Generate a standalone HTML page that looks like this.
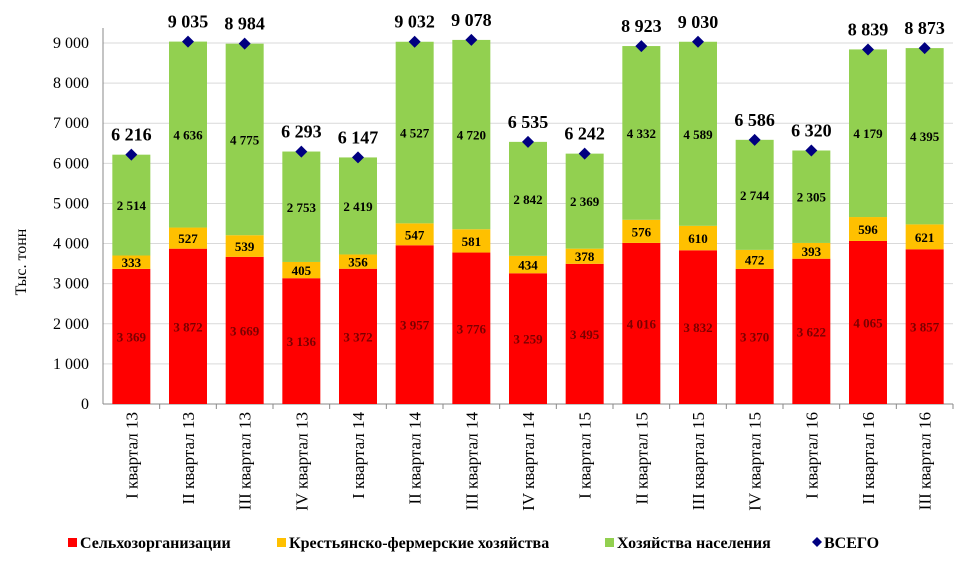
<!DOCTYPE html>
<html><head><meta charset="utf-8"><style>
body{margin:0;background:#fff;width:966px;height:571px;overflow:hidden}
svg text{font-family:"Liberation Serif",serif}
</style></head><body>
<svg id="chart" width="966" height="571"></svg>
<script>
const categories=["I квартал 13","II квартал 13","III квартал 13","IV квартал 13","I квартал 14","II квартал 14","III квартал 14","IV квартал 14","I квартал 15","II квартал 15","III квартал 15","IV квартал 15","I квартал 16","II квартал 16","III квартал 16"];
const agroOrgs=[3369,3872,3669,3136,3372,3957,3776,3259,3495,4016,3832,3370,3622,4065,3857];
const farms=[333,527,539,405,356,547,581,434,378,576,610,472,393,596,621];
const households=[2514,4636,4775,2753,2419,4527,4720,2842,2369,4332,4589,2744,2305,4179,4395];
const totals=[6216,9035,8984,6293,6147,9032,9078,6535,6242,8923,9030,6586,6320,8839,8873];
const yTicks=[0,1000,2000,3000,4000,5000,6000,7000,8000,9000];

const NS="http://www.w3.org/2000/svg";
const svg=document.getElementById('chart');
const X0=103,X1=953,Y0=404,YTOP=43;
const slot=(X1-X0)/categories.length, bw=38;
function y(v){return Y0-(v/9000)*(Y0-YTOP);}
function xc(i){return X0+slot*(i+0.5);}
function fmt(v){const s=String(v);return s.length>3?s.slice(0,-3)+"\u00a0"+s.slice(-3):s;}
function el(t,a,txt){const e=document.createElementNS(NS,t);for(const k in a)e.setAttribute(k,a[k]);if(txt!==undefined)e.textContent=txt;svg.appendChild(e);return e;}

yTicks.forEach(v=>{
  const g=el('line',{x1:X0,x2:X1,y1:y(v),y2:y(v),stroke:v===0?'#888':'#d9d9d9','stroke-width':1});
  
  
  const t=el('text',{x:89,y:y(v)+5,'text-anchor':'end','font-size':16,fill:'#000'},fmt(v));
  
  
});
const ax=el('line',{x1:X0,x2:X0,y1:YTOP-15,y2:Y0,stroke:'#888'});


const yt=el('text',{x:0,y:0,'font-size':16,'text-anchor':'middle',transform:'translate(26,262) rotate(-90)'},'Тыс. тонн');



categories.forEach((c,i)=>{
  const cx=xc(i);
  const tk=el('line',{x1:X0+slot*(i+1),x2:X0+slot*(i+1),y1:Y0,y2:Y0+5,stroke:'#888'});
  
  
  const segs=[[agroOrgs[i],'#ff0000','#7a0000',13],[farms[i],'#ffc000','#000',13],[households[i],'#92d050','#000',13]];
  let base=0;
  segs.forEach((s,k)=>{
    const r=el('rect',{x:cx-bw/2,y:y(base+s[0]),width:bw,height:y(base)-y(base+s[0]),fill:s[1]});
    
    
    const lt=el('text',{x:cx,y:(y(base)+y(base+s[0]))/2+5,'text-anchor':'middle','font-size':s[3],'font-weight':'bold',fill:s[2]},fmt(s[0]));
    
    
    base+=s[0];
  });
  const ty=y(totals[i]);
  const d=el('path',{d:`M${cx} ${ty-6}L${cx+6} ${ty}L${cx} ${ty+6}L${cx-6} ${ty}Z`,fill:'#000080'});
  
  
  const tt=el('text',{x:cx,y:ty-14,'text-anchor':'middle','font-size':18,'font-weight':'bold'},fmt(totals[i]));
  
  
  const xl=el('text',{x:0,y:0,'font-size':17,'text-anchor':'end',transform:`translate(${cx+6},412) rotate(-90)`},c);
  
  
});

const legend=[['#ff0000','Сельхозорганизации',68,'sq'],['#ffc000','Крестьянско-фермерские хозяйства',277,'sq'],['#92d050','Хозяйства населения',605,'sq'],['#000080','ВСЕГО',812,'dia']];
legend.forEach(l=>{
  let m;
  if(l[3]==='sq') m=el('rect',{x:l[2],y:538,width:9,height:9,fill:l[0]});
  else m=el('path',{d:`M${l[2]+5} 537L${l[2]+10} 542L${l[2]+5} 547L${l[2]} 542Z`,fill:l[0]});
  
  
  const t=el('text',{x:l[2]+12,y:548,'font-size':16,'font-weight':'bold'},l[1]);
  
  
});
</script>
</body></html>
